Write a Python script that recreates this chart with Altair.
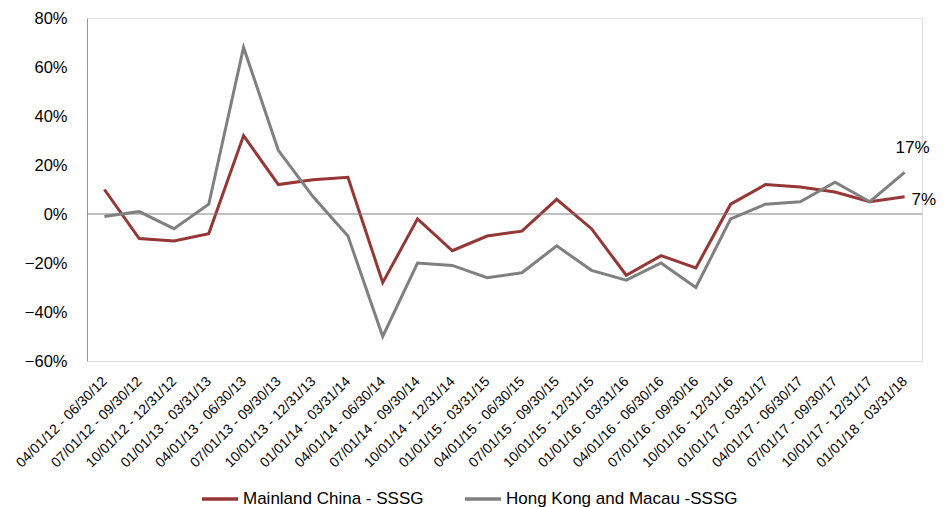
import altair as alt
import pandas as pd

periods = [
    "04/01/12 - 06/30/12", "07/01/12 - 09/30/12", "10/01/12 - 12/31/12", "01/01/13 - 03/31/13",
    "04/01/13 - 06/30/13", "07/01/13 - 09/30/13", "10/01/13 - 12/31/13", "01/01/14 - 03/31/14",
    "04/01/14 - 06/30/14", "07/01/14 - 09/30/14", "10/01/14 - 12/31/14", "01/01/15 - 03/31/15",
    "04/01/15 - 06/30/15", "07/01/15 - 09/30/15", "10/01/15 - 12/31/15", "01/01/16 - 03/31/16",
    "04/01/16 - 06/30/16", "07/01/16 - 09/30/16", "10/01/16 - 12/31/16", "01/01/17 - 03/31/17",
    "04/01/17 - 06/30/17", "07/01/17 - 09/30/17", "10/01/17 - 12/31/17", "01/01/18 - 03/31/18",
]
mainland = [10, -10, -11, -8, 32, 12, 14, 15, -28, -2, -15, -9, -7, 6, -6, -25, -17, -22, 4, 12, 11, 9, 5, 7]
hk_macau = [-1, 1, -6, 4, 68, 26, 7, -9, -50, -20, -21, -26, -24, -13, -23, -27, -20, -30, -2, 4, 5, 13, 5, 17]

s1 = "Mainland China - SSSG"
s2 = "Hong Kong and Macau -SSSG"

rows = []
for p, a, b in zip(periods, mainland, hk_macau):
    rows.append({"period": p, "series": s1, "value": a / 100})
    rows.append({"period": p, "series": s2, "value": b / 100})
df = pd.DataFrame(rows)

last = pd.DataFrame([
    {"period": periods[-1], "series": s1, "value": mainland[-1] / 100, "label": f"{mainland[-1]}%"},
    {"period": periods[-1], "series": s2, "value": hk_macau[-1] / 100, "label": f"{hk_macau[-1]}%"},
])

FONT = "Liberation Sans"
xscale = alt.Scale(type="point", padding=0.5, domain=periods)
yscale = alt.Scale(domain=[-0.6, 0.8], nice=False, zero=False)

x_enc = alt.X("period:N", sort=None, scale=xscale, title=None,
              axis=alt.Axis(domain=False, ticks=False, grid=False, labelAngle=-45,
                            labelAlign="right", labelBaseline="middle",
                            labelFontSize=14, labelFont=FONT, labelColor="#000000",
                            labelPadding=18, labelOverlap=False, labelLimit=0))
y_enc = alt.Y("value:Q", scale=yscale, title=None,
              axis=alt.Axis(values=[-0.6, -0.4, -0.2, 0, 0.2, 0.4, 0.6, 0.8], format=".0%",
                            grid=False, ticks=False, domainColor="#999999", domainWidth=1,
                            labelFontSize=16.5, labelFont=FONT, labelColor="#000000",
                            labelPadding=20))

color = alt.Color("series:N", sort=[s1, s2],
                  scale=alt.Scale(domain=[s1, s2], range=["#953735", "#808080"]),
                  legend=alt.Legend(title=None, orient="none", direction="horizontal",
                                    legendX=113, legendY=461, symbolType="stroke",
                                    symbolSize=1296, symbolStrokeWidth=3.5,
                                    labelFontSize=17, labelFont=FONT, labelColor="#000000",
                                    labelOffset=3, columnPadding=34, labelLimit=0))

lines = alt.Chart(df).mark_line(strokeWidth=3).encode(x=x_enc, y=y_enc, color=color)

zero = alt.Chart(pd.DataFrame({"value": [0.0]})).mark_rule(color="#808080", strokeWidth=1).encode(
    y=alt.Y("value:Q", scale=yscale))

lab_hk = alt.Chart(last[last.series == s2]).mark_text(
    font=FONT, fontSize=17, color="#000000", align="center", dx=8, dy=-24).encode(
    x=alt.X("period:N", sort=None, scale=xscale), y=alt.Y("value:Q", scale=yscale), text="label:N")
lab_mc = alt.Chart(last[last.series == s1]).mark_text(
    font=FONT, fontSize=17, color="#000000", align="left", dx=7, dy=3).encode(
    x=alt.X("period:N", sort=None, scale=xscale), y=alt.Y("value:Q", scale=yscale), text="label:N")

chart = alt.layer(lines, zero, lab_hk, lab_mc).properties(
    width=835, height=343,
    autosize=alt.AutoSizeParams(type="none"),
    padding={"left": 87, "top": 18, "right": 28, "bottom": 146},
).configure_view(stroke="transparent").configure(background="white")

chart.save("out.html", embed_options={"renderer": "svg", "actions": False})
